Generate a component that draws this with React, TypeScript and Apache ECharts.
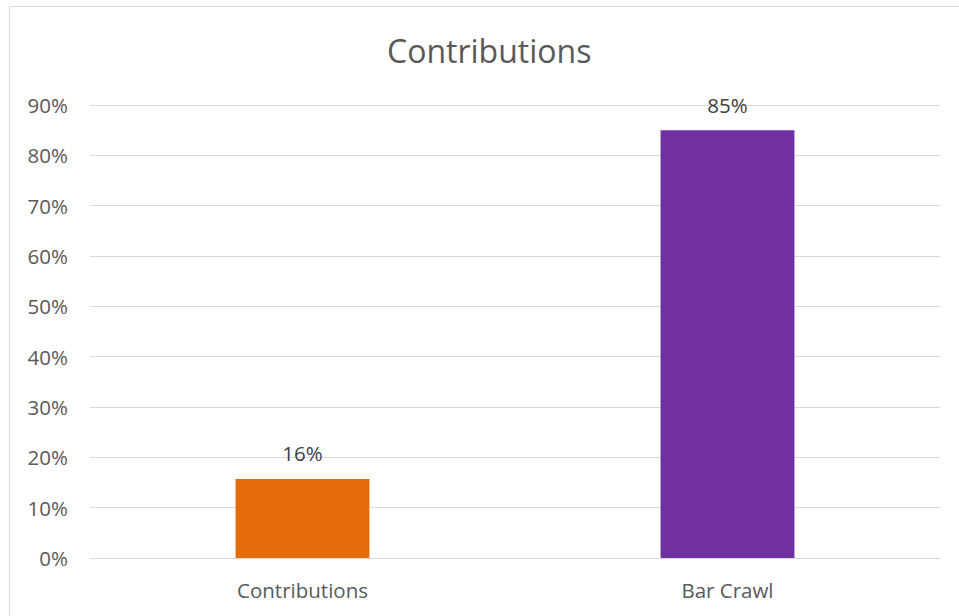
import React, { useEffect, useRef } from "react";
import * as echarts from "echarts";

const categories = ["Contributions", "Bar Crawl"];
const values = [0.157, 0.85];
const barColors = ["#E46C0A", "#7030A0"];
const yTicks = { min: 0, max: 0.9, interval: 0.1 };
const titleText = "Contributions";

const FONT = "'Open Sans', 'Liberation Sans', sans-serif";

export default function App() {
  const ref = useRef<HTMLDivElement>(null);
  useEffect(() => {
    if (!ref.current) return;
    const chart = echarts.init(ref.current, undefined, { renderer: "svg" });
    chart.setOption({
      animation: false,
      backgroundColor: "#ffffff",
      textStyle: { fontFamily: FONT },
      title: {
        text: titleText,
        left: 382,
        top: 29,
        textStyle: { fontFamily: FONT, fontSize: 32, fontWeight: "normal", color: "#595959" },
      },
      graphic: [
        {
          type: "rect",
          shape: { x: 9.5, y: 6.5, width: 980, height: 640 },
          style: { fill: "none", stroke: "#d9d9d9", lineWidth: 1 },
          silent: true,
        },
      ],
      grid: { left: 90, right: 19, top: 105, bottom: 58, containLabel: false },
      xAxis: {
        type: "category",
        data: categories,
        axisLine: { show: true, lineStyle: { color: "#d9d9d9", width: 1 } },
        axisTick: { show: false },
        axisLabel: { color: "#595959", fontSize: 20.5, fontFamily: FONT, margin: 21 },
      },
      yAxis: {
        type: "value",
        min: yTicks.min,
        max: yTicks.max,
        interval: yTicks.interval,
        axisLine: { show: false },
        axisTick: { show: false },
        splitLine: { lineStyle: { color: "#d9d9d9", width: 1 } },
        axisLabel: {
          color: "#595959",
          fontSize: 20.5,
          fontFamily: FONT,
          margin: 22,
          formatter: (v: number) => `${Math.round(v * 100)}%`,
        },
      },
      series: [
        {
          type: "bar",
          barWidth: "31.5%",
          data: values.map((v, i) => ({ value: v, itemStyle: { color: barColors[i] } })),
          label: {
            show: true,
            position: "top",
            distance: 15,
            color: "#404040",
            fontSize: 20.5,
            fontFamily: FONT,
            formatter: (p: any) => `${Math.round(p.value * 100)}%`,
          },
        },
      ],
    });
    return () => chart.dispose();
  }, []);
  return (
    <div
      ref={ref}
      style={{ position: "absolute", left: 0, top: 0, width: 959, height: 616 }}
    />
  );
}
